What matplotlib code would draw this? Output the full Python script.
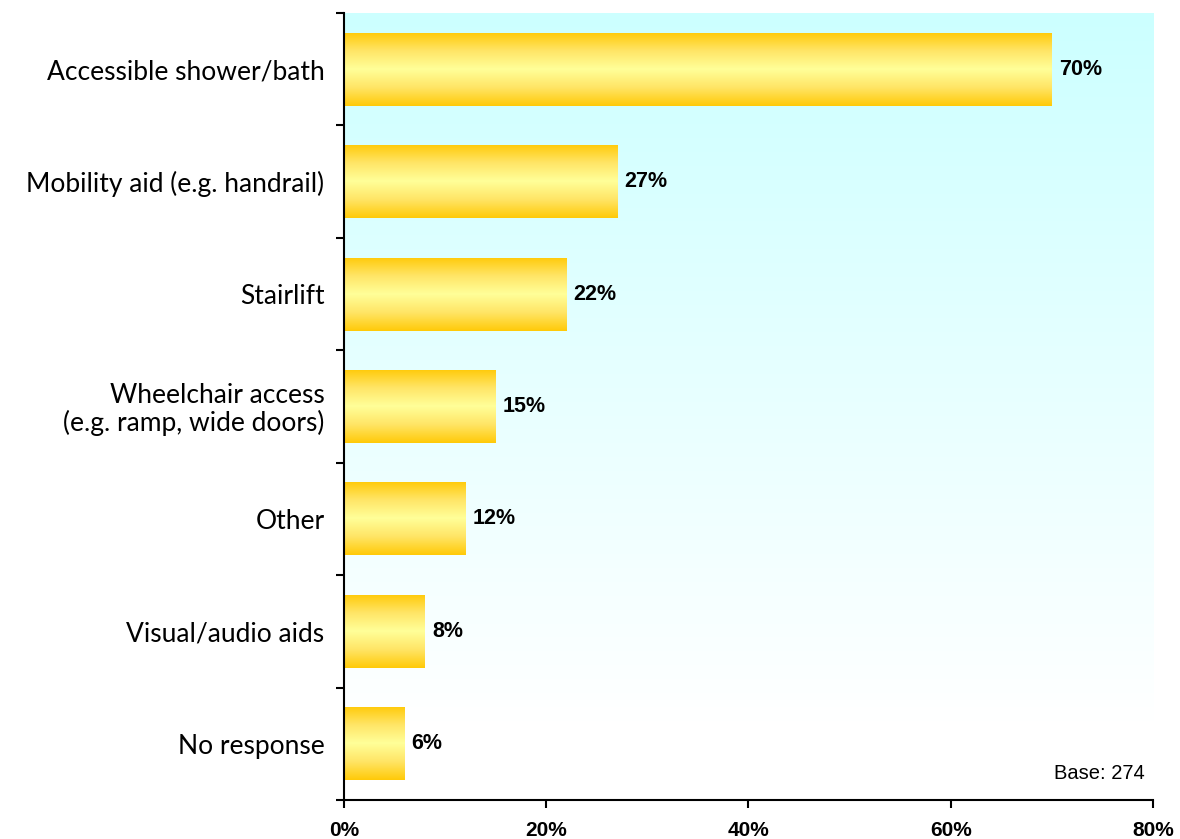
import matplotlib.pyplot as plt
import numpy as np
from matplotlib.colors import LinearSegmentedColormap

categories = ['Accessible shower/bath', 'Mobility aid (e.g. handrail)', 'Stairlift',
              'Wheelchair access\n(e.g. ramp, wide doors)', 'Other',
              'Visual/audio aids', 'No response']
values = [70, 27, 22, 15, 12, 8, 6]
xticks = [0, 20, 40, 60, 80]
base_note = 'Base: 274'

fig = plt.figure(figsize=(11.8, 8.39), dpi=100)
ax = fig.add_axes([0.2915, 0.0465, 0.6856, 0.938])

n = len(categories)
ypos = np.arange(n)[::-1]
ax.set_xlim(0, 80)
ax.set_ylim(-0.5, n - 0.5)

# cyan-to-white background wash
bg = LinearSegmentedColormap.from_list('bg', ['#ffffff', '#ccffff'])
grad = np.linspace(0, 1, 256).reshape(-1, 1)
ax.imshow(grad, cmap=bg, aspect='auto', origin='lower',
          extent=[0, 80, 0.19, n - 0.5], zorder=0)

# gold bars shaded light in the middle
gold = LinearSegmentedColormap.from_list('gold', ['#ffca08', '#ffe566', '#ffff99',
                                                   '#ffe566', '#ffca08'])
bar_h = 0.65
bars = ax.barh(ypos, values, height=bar_h, color='none', zorder=2)
vgrad = np.linspace(0, 1, 256).reshape(-1, 1)
for b in bars:
    x0, y0 = b.get_x(), b.get_y()
    im = ax.imshow(vgrad, cmap=gold, aspect='auto', origin='lower',
                   extent=[x0, x0 + b.get_width(), y0, y0 + b.get_height()],
                   zorder=2)
    im.set_clip_path(b)

for y, v in zip(ypos, values):
    ax.text(v + 0.7, y, f'{v}%', va='center', ha='left', fontsize=15.5,
            fontweight='bold', family='Liberation Sans')

ax.set_yticks(ypos)
ax.set_yticklabels(categories, fontsize=19, family='Lato', linespacing=1.05)
ax.set_yticks(np.arange(-0.5, n), minor=True)
ax.tick_params(axis='y', which='major', length=0, pad=14)
ax.tick_params(axis='y', which='minor', length=6, width=1.5, direction='out')
for lbl in ax.get_yticklabels():
    lbl.set_horizontalalignment('right')
    lbl.set_multialignment('right')

ax.set_xticks(xticks)
ax.set_xticklabels([f'{t}%' for t in xticks], fontsize=15, fontweight='bold',
                   family='Liberation Sans')
ax.tick_params(axis='x', length=6, width=1.5, direction='out', pad=9)

for side in ['top', 'right']:
    ax.spines[side].set_visible(False)
for side in ['left', 'bottom']:
    ax.spines[side].set_linewidth(1.5)

ax.text(0.99, 0.022, base_note, transform=ax.transAxes, ha='right', va='bottom',
        fontsize=14.5, family='Liberation Sans')

fig.savefig('out.png', dpi=100)
